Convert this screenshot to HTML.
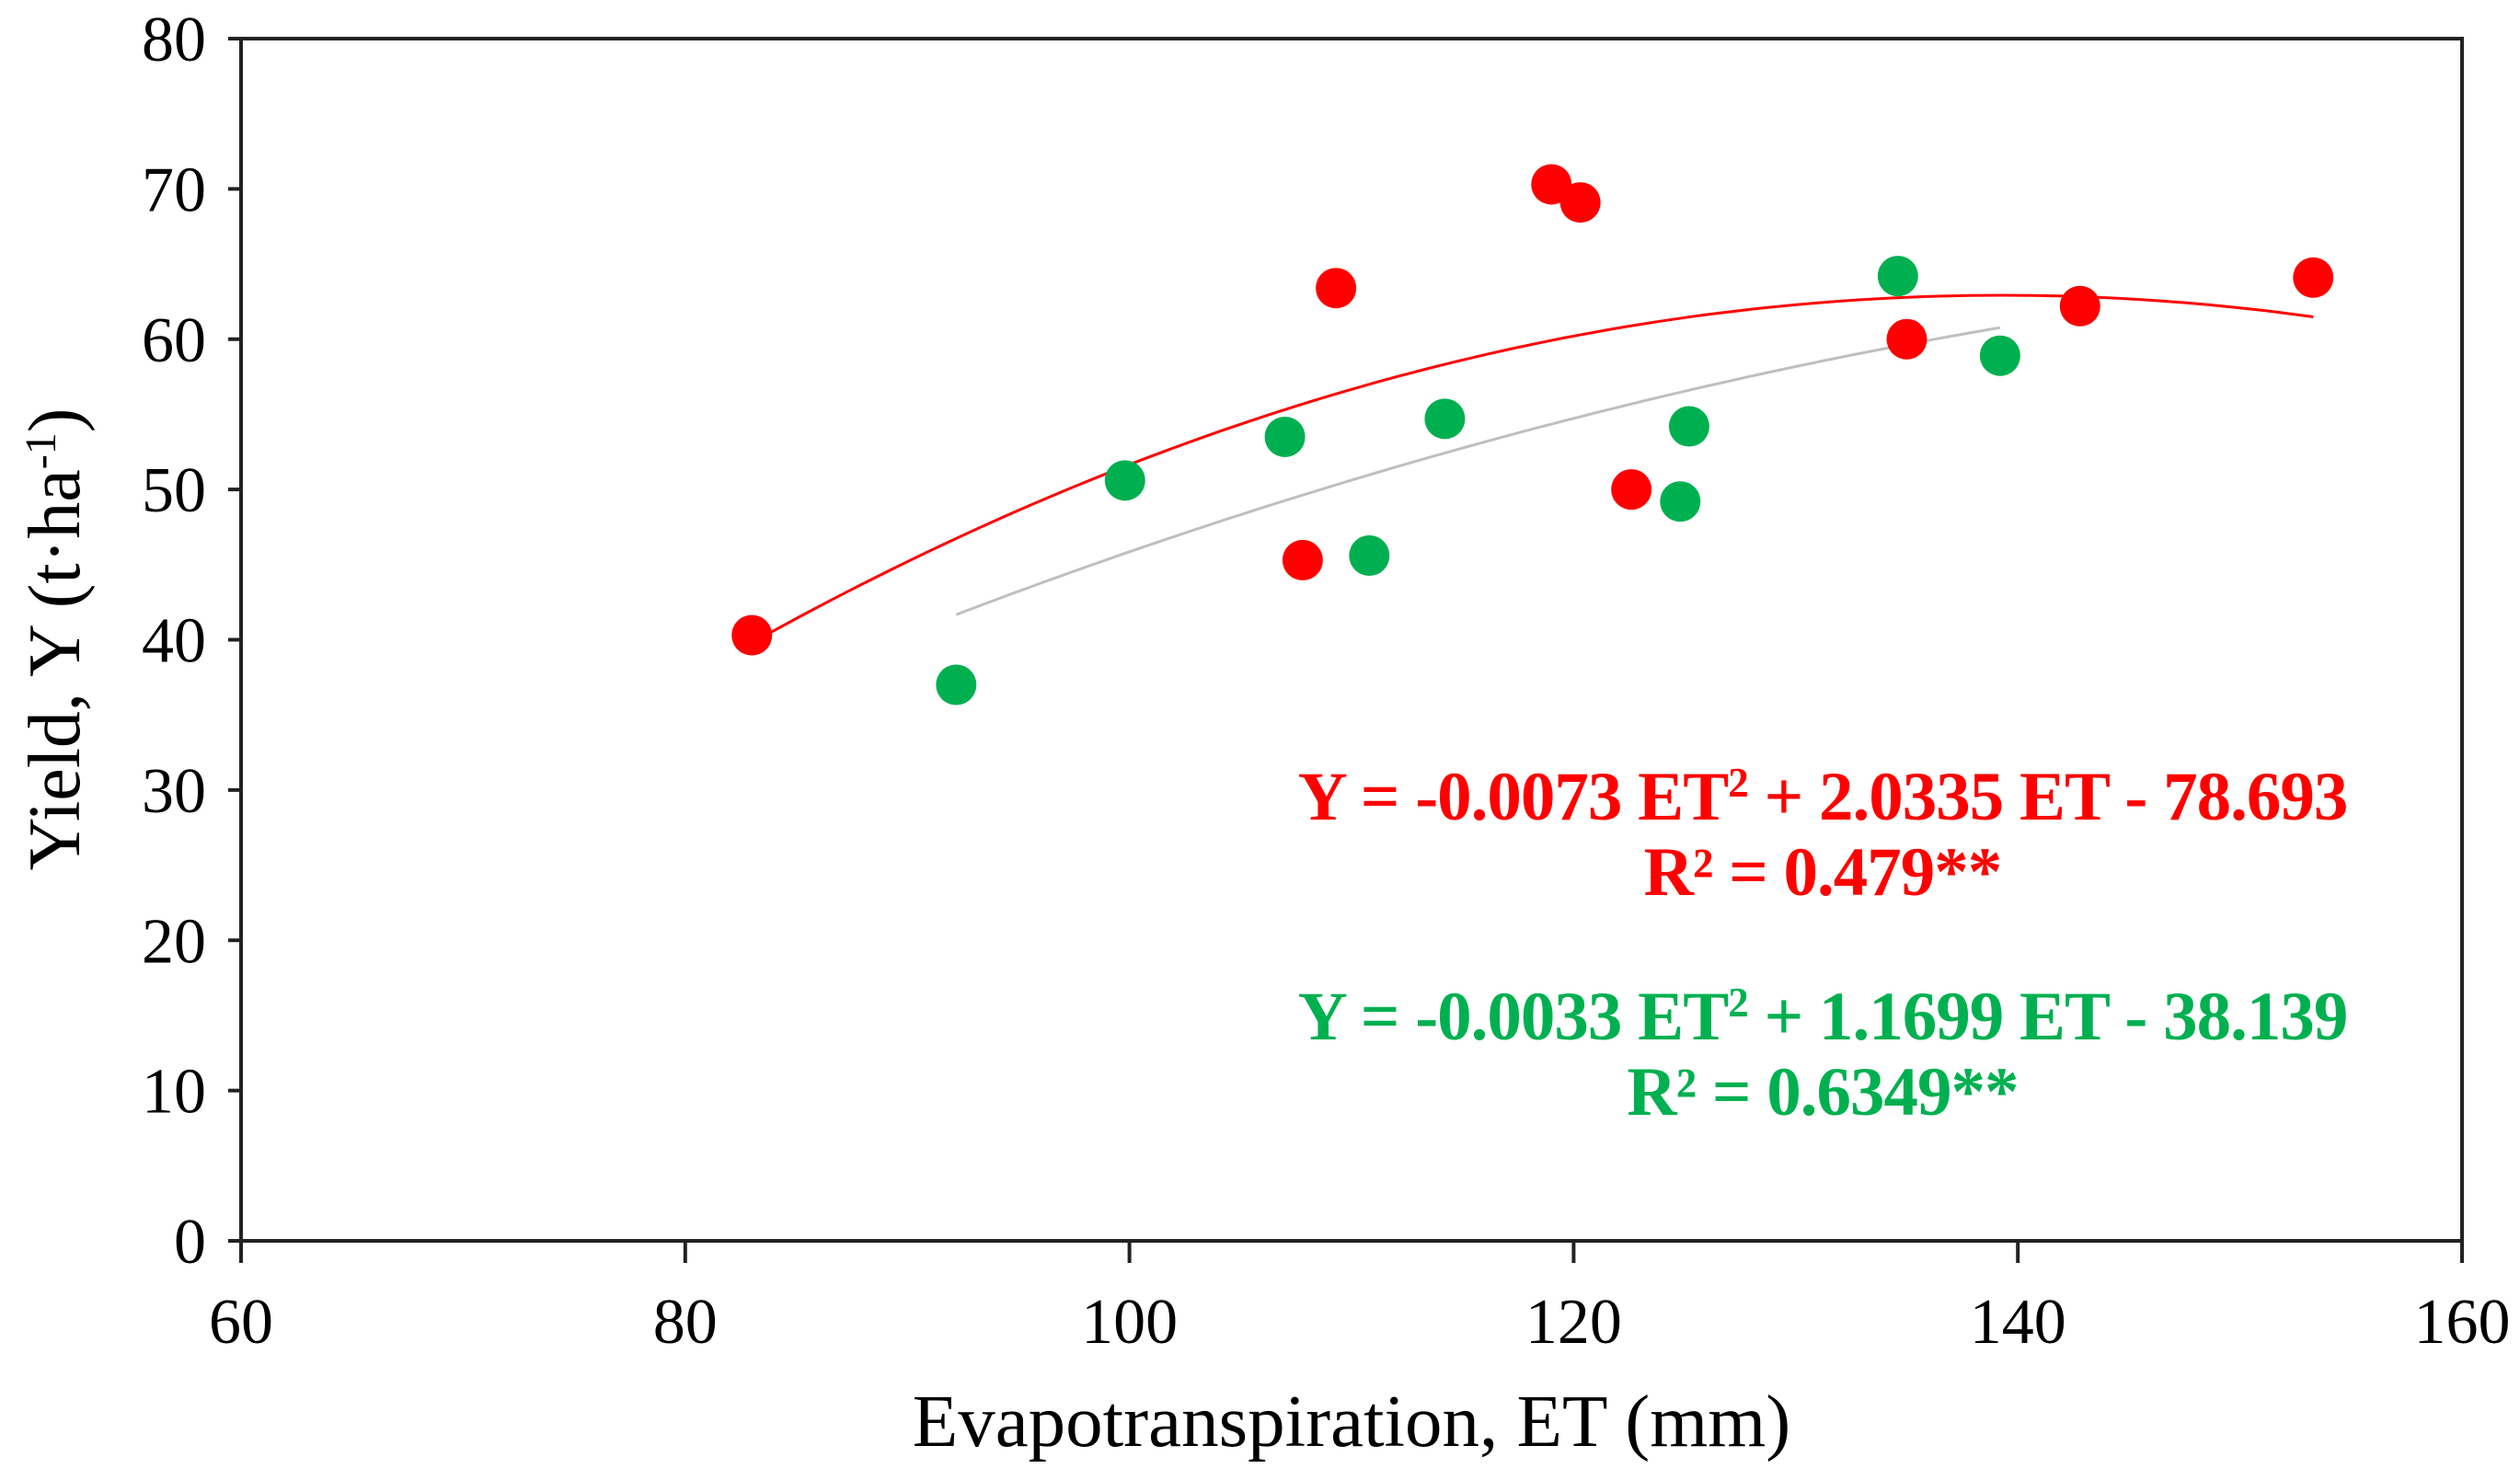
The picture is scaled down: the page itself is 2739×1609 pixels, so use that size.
<!DOCTYPE html>
<html><head><meta charset="utf-8"><style>
html,body{margin:0;padding:0;background:#fff;}
svg{display:block;font-family:"Liberation Serif",serif;}
</style></head><body>
<svg id="chart" width="2739" height="1609" viewBox="0 0 2739 1609">
<g id="axes"></g><g id="lines"></g><g id="pts"></g>
<text transform="translate(86,695) rotate(-90)" text-anchor="middle" font-size="80">Yield, Y (t·ha<tspan baseline-shift="super" font-size="48">-1</tspan>)</text>
<text x="1469" y="1572" text-anchor="middle" font-size="81">Evapotranspiration, ET (mm)</text>
<g font-weight="bold" font-size="75" text-anchor="middle" letter-spacing="-1">
<text x="1981" y="891" fill="#ff0000">Y = -0.0073 ET<tspan baseline-shift="super" font-size="45">2</tspan> + 2.0335 ET - 78.693</text>
<text x="1981" y="973" fill="#ff0000">R² = 0.479**</text>
<text x="1981" y="1130" fill="#00b050">Y = -0.0033 ET<tspan baseline-shift="super" font-size="45">2</tspan> + 1.1699 ET - 38.139</text>
<text x="1981" y="1212" fill="#00b050">R² = 0.6349**</text>
</g>
</svg>
<script>
const xTicks=[60,80,100,120,140,160];
const yTicks=[0,10,20,30,40,50,60,70,80];
const redET=[83,107.8,109.3,119,120.3,122.6,135,142.8,153.3];
const redY=[40.3,45.3,63.4,70.3,69.1,50,60,62.2,64.1];
const greenET=[92.2,99.8,107,110.8,114.2,124.8,125.2,134.6,139.2];
const greenY=[37,50.6,53.5,45.6,54.7,49.2,54.2,64.2,58.9];
const redCoef=[-0.0073,2.0335,-78.693];
const greenCoef=[-0.0033,1.1699,-38.139];
const NS='http://www.w3.org/2000/svg';
const X0=262,X1=2676,Y0=1349,Y1=42;
const sx=v=>X0+(v-60)/100*(X1-X0);
const sy=v=>Y0-(v/80)*(Y0-Y1);
function mk(t,a,p){const e=document.createElementNS(NS,t);for(const k in a)e.setAttribute(k,a[k]);p.appendChild(e);return e;}
const ax=document.getElementById('axes');
const frame=mk('rect',{x:X0,y:Y1,width:X1-X0,height:Y0-Y1,fill:'none',stroke:'#222','stroke-width':4},ax);


yTicks.forEach(v=>{
 const l=mk('line',{x1:X0-14,x2:X0,y1:sy(v),y2:sy(v),stroke:'#222','stroke-width':4},ax);
 
 
 const t=mk('text',{x:X0-38,y:sy(v)+24,'text-anchor':'end','font-size':70},ax);t.textContent=v;
 
 
});
xTicks.forEach(v=>{
 const l=mk('line',{x1:sx(v),x2:sx(v),y1:Y0,y2:Y0+24,stroke:'#222','stroke-width':4},ax);
 
 
 const t=mk('text',{x:sx(v),y:Y0+111,'text-anchor':'middle','font-size':70},ax);t.textContent=v;
 
 
});
function curve(c,a,b,col,w,name){
 let d='';for(let i=0;i<=100;i++){const x=a+(b-a)*i/100;const y=c[0]*x*x+c[1]*x+c[2];d+=(i?'L':'M')+sx(x).toFixed(1)+','+sy(y).toFixed(1);}
 const p=mk('path',{d:d,fill:'none',stroke:col,'stroke-width':w},document.getElementById('lines'));
 
 
}
curve(redCoef,Math.min(...redET),Math.max(...redET),'#ff0000',3,'red-trendline');
curve(greenCoef,Math.min(...greenET),Math.max(...greenET),'#bfbfbf',3,'green-trendline');
const pg=document.getElementById('pts');
greenET.forEach((x,i)=>{const c=mk('circle',{cx:sx(x),cy:sy(greenY[i]),r:22,fill:'#00b050'},pg);
 
 });
redET.forEach((x,i)=>{const c=mk('circle',{cx:sx(x),cy:sy(redY[i]),r:22,fill:'#ff0000'},pg);
 
 });
</script>
</body></html>
